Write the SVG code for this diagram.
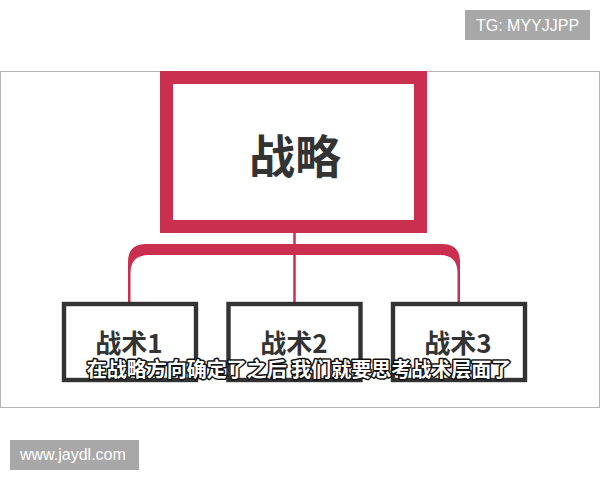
<svg xmlns="http://www.w3.org/2000/svg" width="600" height="480" viewBox="0 0 600 480">
<style>
.cjk{font-family:"Noto Sans CJK SC","Noto Sans",sans-serif;font-weight:700;fill:#333;text-anchor:middle}
.child{fill:#fff;stroke:#333;stroke-width:4.4}
.red{fill:#ca2f50}
.wm{fill:#a8a8a8}
.wmt{font-family:"Liberation Sans",Arial,sans-serif;font-size:16px;fill:#fff}
.sub{font-family:"Noto Sans CJK SC",sans-serif;font-size:20px;font-weight:700;fill:#fff;stroke:#111;stroke-width:3;paint-order:stroke;stroke-linejoin:round;text-anchor:middle}
</style>
<rect x="0" y="0" width="600" height="480" fill="#fff"/>
<rect x="0.5" y="71.5" width="599" height="336" fill="#fff" stroke="#b4b4b4" stroke-width="1"/>
<g id="connectors">
<path class="red" d="M128,302 L128,262 Q128,244 146,244 L442,244 Q460,244 460,262 L460,302 L457.5,302 L457.5,273 Q457.5,255 440,255 L149,255 Q130.5,255 130.5,273 L130.5,302 Z"/>
<line x1="294.5" y1="232" x2="294.5" y2="303" stroke="#ca2f50" stroke-width="2.5"/>
</g>
<g id="strategy">
<rect x="166.5" y="77.5" width="254" height="149" fill="#fff" stroke="#ca2f50" stroke-width="13"/>
<text class="cjk" x="295" y="173" font-size="46">战略</text>
</g>
<g id="tactic1">
<rect class="child" x="64" y="304" width="132" height="76"/>
<text class="cjk" x="129" y="353" font-size="26">战术1</text>
</g>
<g id="tactic2">
<rect class="child" x="228.5" y="304" width="132" height="76"/>
<text class="cjk" x="294" y="353" font-size="26">战术2</text>
</g>
<g id="tactic3">
<rect class="child" x="393" y="304" width="132" height="76"/>
<text class="cjk" x="458" y="353" font-size="26">战术3</text>
</g>
<text class="sub" x="299" y="377">在战略方向确定了之后 我们就要思考战术层面了</text>
<g id="wm-tg">
<rect class="wm" x="465" y="10" width="125" height="30"/>
<text class="wmt" x="476" y="31">TG: MYYJJPP</text>
</g>
<g id="wm-site">
<rect class="wm" x="10" y="440" width="129" height="30"/>
<text class="wmt" x="20" y="460">www.jaydl.com</text>
</g>
</svg>
